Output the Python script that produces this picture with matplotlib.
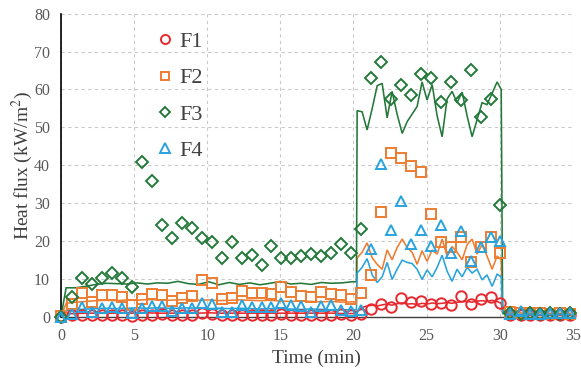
import matplotlib
matplotlib.use("Agg")
import matplotlib.pyplot as plt
from matplotlib.lines import Line2D

plt.rcParams['font.family'] = ['Liberation Serif', 'DejaVu Serif']
plt.rcParams['mathtext.fontset'] = 'stix'

# Measured points (markers), time in minutes
meas_t = [0, 0.77, 1.45, 2.13, 2.81, 3.49, 4.18, 4.86, 5.54, 6.22, 6.90,
          7.58, 8.26, 8.94, 9.62, 10.30, 10.99, 11.67, 12.35, 13.03, 13.71,
          14.39, 15.07, 15.75, 16.43, 17.11, 17.80, 18.48, 19.16, 19.84, 20.52,
          21.20, 21.88, 22.56, 23.24, 23.92, 24.61, 25.29, 25.97, 26.65, 27.33,
          28.01, 28.69, 29.37, 30.05, 30.73, 31.42, 32.10, 32.78, 33.46, 34.14,
          34.82]

f1_meas = [0, 0.5, 0.4, 0.5, 0.4, 0.5, 0.4, 0.2, 0.5, 0.5, 0.6, 0.5, 0.4,
           0.5, 0.9, 0.7, 0.5, 0.4, 0.5, 0.5, 0.5, 0.4, 0.8, 0.5, 0.5, 0.4,
           0.5, 0.5, 0.6, 0.4, 0.6, 2.1, 3.4, 2.6, 5.0, 3.9, 4.2, 3.4, 3.7,
           3.1, 5.4, 3.2, 4.6, 5.2, 3.6, 0.4, 0.3, 0.4, 0.3, 0.4, 0.3, 0.4]
f2_meas = [0.2, 3.3, 6.1, 3.9, 5.6, 5.6, 5.1, 3.0, 4.7, 6.0, 5.6, 4.0, 4.8,
           5.4, 9.7, 8.8, 4.7, 5.0, 6.8, 6.1, 6.3, 5.9, 7.7, 6.5, 5.4, 5.3,
           6.5, 5.9, 5.6, 4.6, 6.1, 10.9, 27.6, 43.1, 41.8, 39.7, 38.1, 27.0,
           19.8, 18.4, 21.1, 14.5, 18.3, 21.0, 16.7, 1.2, 1.0, 1.0, 0.9, 0.8,
           0.9, 0.8]
f3_meas = [0, 5.3, 10.1, 8.5, 10.1, 11.4, 10.3, 7.9, 40.9, 35.9, 24.2, 20.7,
           24.6, 23.3, 20.8, 19.8, 15.6, 19.8, 15.4, 16.3, 13.6, 18.6, 15.6,
           15.4, 16.0, 16.5, 16.0, 16.9, 19.2, 16.8, 23.1, 63.1, 67.3, 57.6,
           61.1, 58.5, 64.2, 63.1, 56.7, 62.0, 57.2, 65.1, 52.7, 57.4, 29.5,
           1.0, 0.8, 0.9, 0.8, 0.9, 0.8, 0.9]
f4_meas = [0, 0.7, 2.6, 1.3, 2.2, 2.4, 2.2, 0.9, 2.2, 2.9, 2.9, 1.4, 2.2,
           2.2, 3.6, 3.2, 1.3, 1.3, 3.1, 2.6, 2.6, 2.6, 3.5, 3.1, 2.9, 1.3,
           2.9, 3.1, 1.7, 1.6, 1.7, 17.8, 40.2, 22.8, 30.6, 19.3, 22.8, 18.7,
           24.2, 16.7, 22.7, 14.7, 18.5, 20.9, 19.9, 0.6, 1.5, 0.8, 0.8, 1.0,
           0.9, 0.9]

# Predicted curves (lines), time in minutes
line_t = [0, 0.35, 1.0, 1.7, 2.4, 3.1, 3.8, 4.5, 5.2, 5.9, 6.6, 7.3, 8.0,
          8.7, 9.4, 10.1, 10.8, 11.5, 12.2, 12.9, 13.6, 14.3, 15.0, 15.7,
          16.4, 17.1, 17.8, 18.5, 19.2, 19.9, 20.2,
          20.25, 20.59, 20.93, 21.28, 21.62, 21.96, 22.30, 22.64, 22.98, 23.33,
          23.67, 24.01, 24.35, 24.69, 25.03, 25.38, 25.72, 26.06, 26.40, 26.74,
          27.08, 27.43, 27.77, 28.11, 28.45, 28.79, 29.13, 29.48, 29.82, 30.1,
          30.2, 30.6, 31.3, 32.0, 32.7, 33.4, 34.1, 34.85]

f1_line = [0, 0.7, 0.8, 0.9, 0.9, 0.9, 0.9, 0.9, 0.9, 1.0, 0.9, 0.9, 0.9,
           0.9, 0.9, 1.0, 0.9, 0.9, 0.9, 0.9, 0.9, 0.9, 0.9, 0.9, 0.9, 0.9,
           0.9, 0.9, 0.8, 0.8, 0.8,
           1.2, 2.4, 2.8, 3.0, 2.8, 3.1, 3.3, 3.0, 3.4, 3.6,
           3.3, 3.4, 3.2, 3.5, 3.3, 3.6, 3.4, 3.5, 3.7, 3.5,
           3.8, 3.9, 4.0, 3.8, 4.1, 4.2, 4.0, 4.3, 4.0, 3.5,
           1.2, 0.4, 0.3, 0.3, 0.3, 0.3, 0.3, 0.3]
f2_line = [0, 3.5, 3.8, 4.0, 4.2, 4.3, 4.2, 4.4, 4.3, 4.5, 4.4, 4.3, 4.4,
           4.5, 4.3, 4.4, 4.2, 4.3, 4.4, 4.3, 4.2, 4.3, 4.1, 4.0, 4.1, 4.0,
           3.9, 4.0, 3.8, 3.9, 3.9,
           15.5, 17.0, 19.5, 15.5, 13.8, 12.5, 17.6, 15.0, 18.2, 20.5,
           18.2, 17.0, 13.8, 17.4, 14.6, 17.6, 16.5, 20.5, 16.0, 18.5,
           17.0, 15.0, 19.0, 20.5, 16.5, 19.0, 16.0, 12.5, 16.0, 15.0,
           1.5, 1.0, 1.0, 0.9, 1.0, 0.9, 0.9, 0.9]
f3_line = [0, 7.6, 7.6, 8.0, 8.5, 8.8, 8.7, 8.6, 8.9, 8.6, 8.9, 8.8, 9.3,
           8.7, 8.5, 9.2, 8.4, 9.0, 8.5, 8.9, 8.4, 8.8, 9.3, 8.6, 8.8, 8.5,
           9.0, 8.8, 8.9, 9.2, 9.2,
           54.4, 54.1, 49.3, 55.0, 61.0, 61.6, 52.5, 59.5, 53.5, 48.4,
           51.5, 53.5, 55.5, 62.0, 57.2, 61.3, 53.0, 47.5, 57.5, 59.5,
           56.5, 59.3, 53.0, 47.5, 52.0, 56.5, 56.0, 59.0, 62.0, 60.0,
           0.8, 0.6, 0.5, 0.6, 0.5, 0.5, 0.6, 0.5]
f4_line = [0, 1.5, 1.8, 2.0, 2.1, 2.2, 2.1, 2.2, 2.3, 2.2, 2.3, 2.2, 2.2,
           2.3, 2.2, 2.1, 2.2, 2.1, 2.2, 2.1, 2.0, 2.1, 2.0, 2.0, 1.9, 2.0,
           1.9, 1.8, 1.8, 1.8, 1.8,
           11.5, 13.0, 15.3, 11.0, 9.0, 10.5, 14.3, 9.8, 12.5, 14.9,
           14.3, 14.0, 12.5, 9.8, 12.3, 10.5, 13.0, 16.2, 12.0, 9.3,
           12.5, 10.5, 13.0, 11.5, 12.5, 9.7, 11.0, 8.0, 11.2, 10.5,
           1.0, 0.5, 0.5, 0.5, 0.5, 0.5, 0.5, 0.5]

labels = ['F1', 'F2', 'F3', 'F4']
colors = ['#e8282f', '#ed7d31', '#23783a', '#29a3dc']
markers = ['o', 's', 'D', '^']
msizes = [7.5, 6.5, 6.5, 7.5]
lines = [f1_line, f2_line, f3_line, f4_line]
meas = [f1_meas, f2_meas, f3_meas, f4_meas]

fig = plt.figure(figsize=(5.81, 3.72), dpi=100)
ax = fig.add_axes([0.105, 0.149, 0.881, 0.814])

for y, c in zip(lines, colors):
    ax.plot(line_t, y, color=c, lw=1.15, zorder=3, solid_joinstyle='miter')

for y, c, m, s in zip(meas, colors, markers, msizes):
    ax.plot(meas_t, y, ls='none', marker=m, ms=s, mfc='none', mec=c,
            mew=1.4, zorder=4, clip_on=False)

ax.set_xlim(0, 35)
ax.set_ylim(0, 80)
ax.set_xticks(range(0, 36, 5))
ax.set_yticks(range(0, 81, 10))
ax.grid(True, color='#c9c9c9', ls=(0, (3, 3)), lw=0.8)
ax.set_axisbelow(True)
for side in ('top', 'right'):
    ax.spines[side].set_visible(False)
ax.spines['left'].set_color('#000000')
ax.spines['left'].set_linewidth(1.2)
ax.spines['bottom'].set_color('#404040')
ax.spines['bottom'].set_linewidth(1.0)
ax.spines['bottom'].set_zorder(2)
ax.tick_params(length=0, labelsize=11.5, labelcolor='#595959', pad=8)

ax.set_xlabel('Time (min)', fontsize=14, color='#404040', labelpad=4)
ax.set_ylabel('Heat flux (kW/m$^{2}$)', fontsize=14, color='#404040',
              va='center')
ax.yaxis.set_label_coords(-0.076, 0.5)

handles = [Line2D([], [], ls='none', marker=m, ms=s - 1, mfc='none', mec=c, mew=1.4)
           for c, m, s in zip(colors, markers, msizes)]
leg = ax.legend(handles, labels, loc='upper left', bbox_to_anchor=(0.168, 0.971),
                frameon=False, fontsize=16, labelspacing=0.71, handlelength=0.8,
                handletextpad=0.25, borderaxespad=0)
for t in leg.get_texts():
    t.set_color('#404040')

fig.savefig('out.png', dpi=100)
